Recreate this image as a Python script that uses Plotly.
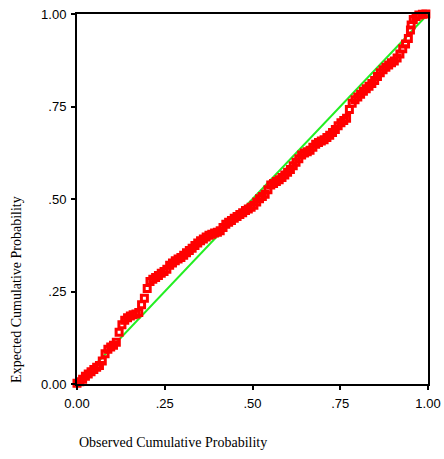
import plotly.graph_objects as go

# Observed cumulative probability (x) and expected cumulative probability (y)
observed = [0.000, 0.008, 0.016, 0.024, 0.032, 0.040, 0.048, 0.056, 0.064, 0.072,
            0.080, 0.088, 0.096, 0.104, 0.112, 0.120, 0.128, 0.136, 0.144, 0.152,
            0.160, 0.168, 0.176, 0.184, 0.192, 0.200, 0.208, 0.216, 0.224, 0.232,
            0.240, 0.248, 0.256, 0.264, 0.272, 0.280, 0.288, 0.296, 0.304, 0.312,
            0.320, 0.328, 0.336, 0.344, 0.352, 0.360, 0.368, 0.376, 0.384, 0.392,
            0.400, 0.408, 0.416, 0.424, 0.432, 0.440, 0.448, 0.456, 0.464, 0.472,
            0.480, 0.488, 0.496, 0.504, 0.512, 0.520, 0.528, 0.536, 0.544, 0.552,
            0.560, 0.568, 0.576, 0.584, 0.592, 0.600, 0.608, 0.616, 0.624, 0.632,
            0.640, 0.648, 0.656, 0.664, 0.672, 0.680, 0.688, 0.696, 0.704, 0.712,
            0.720, 0.728, 0.736, 0.744, 0.752, 0.760, 0.768, 0.776, 0.784, 0.792,
            0.800, 0.808, 0.816, 0.824, 0.832, 0.840, 0.848, 0.856, 0.864, 0.872,
            0.880, 0.888, 0.896, 0.904, 0.912, 0.920, 0.928, 0.936, 0.944, 0.950,
            0.952, 0.958, 0.966, 0.974, 0.984, 0.994]
expected = [0.002, 0.006, 0.013, 0.021, 0.027, 0.033, 0.039, 0.045, 0.050, 0.062,
            0.082, 0.094, 0.100, 0.105, 0.113, 0.140, 0.160, 0.172, 0.179, 0.184,
            0.187, 0.189, 0.193, 0.214, 0.232, 0.258, 0.277, 0.283, 0.288, 0.293,
            0.299, 0.304, 0.310, 0.321, 0.327, 0.333, 0.338, 0.342, 0.348, 0.355,
            0.361, 0.367, 0.374, 0.381, 0.387, 0.392, 0.397, 0.402, 0.405, 0.408,
            0.410, 0.414, 0.423, 0.432, 0.437, 0.442, 0.448, 0.453, 0.458, 0.463,
            0.469, 0.473, 0.478, 0.483, 0.492, 0.501, 0.507, 0.513, 0.525, 0.538,
            0.542, 0.547, 0.552, 0.558, 0.565, 0.572, 0.580, 0.590, 0.599, 0.609,
            0.619, 0.624, 0.628, 0.632, 0.640, 0.648, 0.653, 0.657, 0.660, 0.666,
            0.672, 0.680, 0.688, 0.698, 0.706, 0.712, 0.718, 0.742, 0.759, 0.768,
            0.776, 0.783, 0.791, 0.798, 0.805, 0.812, 0.820, 0.831, 0.841, 0.849,
            0.856, 0.862, 0.868, 0.873, 0.881, 0.892, 0.906, 0.919, 0.934, 0.957,
            0.970, 0.985, 0.993, 0.997, 0.999, 1.000]

ref_line = [0.0, 1.0]
tick_vals = [0.0, 0.25, 0.5, 0.75, 1.0]
tick_text = ["0.00", ".25", ".50", ".75", "1.00"]

fig = go.Figure()
fig.add_trace(go.Scatter(x=ref_line, y=ref_line, mode="lines",
                         line=dict(color="#22ee22", width=2), hoverinfo="skip"))
fig.add_trace(go.Scatter(x=observed, y=expected, mode="markers",
                         marker=dict(symbol="square-open", size=6, color="#ff0000",
                                     line=dict(width=3, color="#ff0000")),
                         cliponaxis=False))

axis_common = dict(range=[0, 1], tickvals=tick_vals, ticktext=tick_text,
                   showgrid=False, zeroline=False, showline=True, mirror=True,
                   linecolor="black", linewidth=2, ticks="outside", ticklen=4,
                   tickwidth=2, tickcolor="black", automargin=False,
                   tickfont=dict(family="Liberation Sans, Arial", size=13, color="black"))

fig.update_layout(
    template="none",
    width=444, height=459,
    margin=dict(l=77, r=16, t=14, b=75, autoexpand=False),
    paper_bgcolor="white", plot_bgcolor="white",
    showlegend=False,
    xaxis=dict(**axis_common, ticklabelstandoff=2),
    yaxis=dict(**axis_common, ticklabelstandoff=2),
    annotations=[
        dict(text="Observed Cumulative Probability", x=0, y=-0.158, xref="paper", yref="paper",
             xanchor="left", yanchor="middle", showarrow=False,
             font=dict(family="Liberation Serif, Times New Roman", size=14, color="black")),
        dict(text="Expected Cumulative Probability", x=-0.171, y=0.257, xref="paper", yref="paper",
             xanchor="center", yanchor="middle", showarrow=False, textangle=-90,
             font=dict(family="Liberation Serif, Times New Roman", size=14, color="black")),
    ],
)

fig.write_html("out.html")
